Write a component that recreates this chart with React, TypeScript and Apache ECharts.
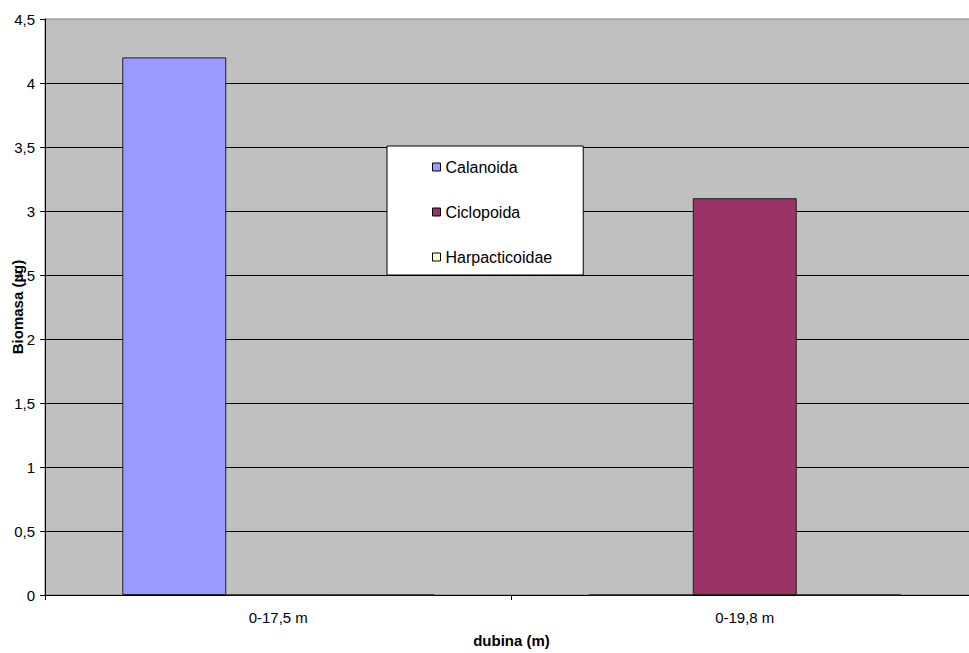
import React, { useEffect, useRef } from "react";
import * as echarts from "echarts";

const categories = ["0-17,5 m", "0-19,8 m"];
const calanoida = [4.2, 0];
const ciclopoida = [0, 3.1];
const harpacticoidae = [0, 0];
const seriesNames = ["Calanoida", "Ciclopoida", "Harpacticoidae"];
const seriesColors = ["#9999FF", "#993366", "#FFFFCC"];
const yTitle = "Biomasa (µg)";
const xTitle = "dubina (m)";

const FONT = "Liberation Sans, Arial, sans-serif";

export default function App() {
  const ref = useRef<HTMLDivElement>(null);
  useEffect(() => {
    if (!ref.current) return;
    const chart = echarts.init(ref.current, undefined, { renderer: "svg" });
    const values = [calanoida, ciclopoida, harpacticoidae];
    chart.setOption({
      animation: false,
      backgroundColor: "#ffffff",
      grid: {
        left: 45,
        top: 19,
        width: 933,
        height: 576,
        containLabel: false,
        outerBoundsMode: "none",
        show: true,
        backgroundColor: "#C0C0C0",
        borderColor: "#808080",
        borderWidth: 1,
      },
      graphic: [
        {
          type: "text",
          x: 17,
          y: 307,
          rotation: Math.PI / 2,
          style: {
            text: yTitle,
            align: "center",
            verticalAlign: "middle",
            fontSize: 15,
            fontWeight: "bold",
            fontFamily: FONT,
            fill: "#000",
          },
        },
      ],
      legend: {
        orient: "vertical",
        left: 387,
        top: 146,
        padding: [13, 31, 10, 45],
        itemGap: 29,
        itemWidth: 8,
        itemHeight: 8,
        itemTextGap: 5,
        icon: "rect",
        backgroundColor: "#ffffff",
        borderColor: "#000000",
        borderWidth: 1,
        textStyle: { fontSize: 16, lineHeight: 16, fontFamily: FONT, color: "#000" },
        itemStyle: { borderColor: "#000", borderWidth: 1 },
        data: seriesNames,
      },
      xAxis: {
        type: "category",
        data: categories,
        name: xTitle,
        nameLocation: "middle",
        nameGap: 38,
        nameTextStyle: { fontSize: 15, fontWeight: "bold", fontFamily: FONT, color: "#000", verticalAlign: "top" },
        axisLine: { lineStyle: { color: "#000", width: 1 } },
        axisTick: { show: true, length: 5, lineStyle: { color: "#000" } },
        axisLabel: { fontSize: 15, fontFamily: FONT, color: "#000", margin: 15 },
        splitLine: { show: false },
      },
      yAxis: {
        type: "value",
        min: 0,
        max: 4.5,
        interval: 0.5,
        axisLine: { show: true, lineStyle: { color: "#000", width: 1 } },
        axisTick: { show: true, length: 5, lineStyle: { color: "#000" } },
        axisLabel: {
          fontSize: 15,
          fontFamily: FONT,
          color: "#000",
          margin: 10,
          formatter: (v: number) => String(v).replace(".", ","),
        },
        splitLine: { show: true, showMaxLine: false, lineStyle: { color: "#000", width: 1 } },
      },
      series: seriesNames.map((name, i) => ({
        name,
        type: "bar",
        data: values[i],
        barWidth: 104,
        barGap: "0%",
        itemStyle: { color: seriesColors[i], borderColor: "#222", borderWidth: 1 },
      })),
    });
    return () => chart.dispose();
  }, []);
  return (
    <div
      ref={ref}
      style={{ position: "fixed", left: 0, top: 0, width: 969, height: 653, background: "#fff" }}
    />
  );
}
